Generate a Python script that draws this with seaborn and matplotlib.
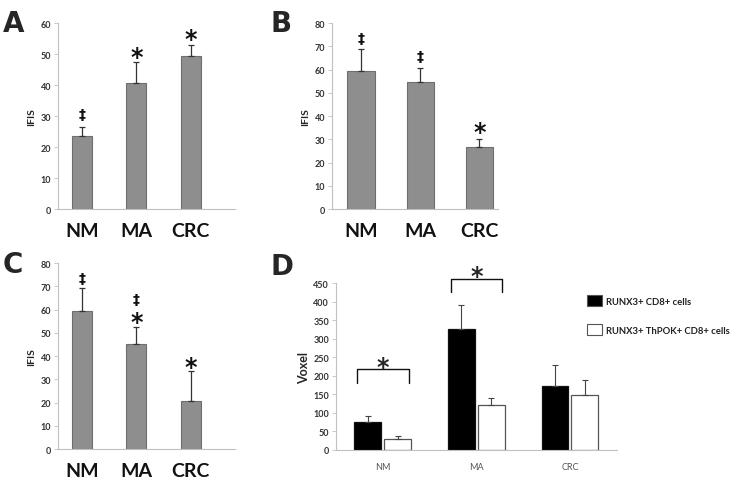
import matplotlib
matplotlib.use("Agg")
import matplotlib.pyplot as plt
from matplotlib.transforms import offset_copy
import seaborn as sns
import pandas as pd
import numpy as np

sns.set_style("white")
plt.rcParams['font.family'] = ['Lato', 'DejaVu Sans']

cats = ['NM', 'MA', 'CRC']

# panels A-C: IFIS mean and upper error
a_vals = [23.5, 40.5, 49.3]
a_err = [3.0, 7.0, 3.7]
a_marks = ['‡', '*', '*']
a_mark_y = [30.6, 50.8, 56.5]

b_vals = [59.5, 54.5, 26.5]
b_err = [9.3, 6.2, 3.8]
b_marks = ['‡', '‡', '*']
b_mark_y = [73.5, 66.0, 35.1]

c_vals = [59.5, 45.3, 20.8]
c_err = [9.7, 7.0, 12.7]
c_marks = [['‡'], ['‡', '*'], ['*']]
c_mark_y = [[73.5], [64.5, 56.6], [37.6]]

# panel D: voxel counts
d_series = ['RUNX3+ CD8+ cells', 'RUNX3+ ThPOK+ CD8+ cells']
d_cd8 = [76.5, 326, 172]
d_cd8_err = [14.5, 65.5, 58]
d_thpok = [30.6, 122, 148]
d_thpok_err = [6.4, 18, 41]
d_bracket = [(180, 217, 238), (425, 461, 483)]  # leg bottom, bar top, star

fig = plt.figure(figsize=(7.37, 4.81), dpi=100)

bar_grey = '#8e8e8e'
edge_grey = '#6e6e6e'
spine_col = '#c0c0c0'


def style_axes(ax):
    sns.despine(ax=ax)
    for s in ['left', 'bottom']:
        ax.spines[s].set_color(spine_col)
        ax.spines[s].set_linewidth(0.8)
    ax.tick_params(axis='y', which='both', left=True, length=3, width=0.6,
                   color=spine_col, labelsize=6.5, labelcolor='#333333', pad=2)
    for t in ax.get_yticklabels():
        t.set_fontweight('bold')
    ax.tick_params(axis='x', bottom=False, pad=8)
    ax.set_xlabel('')


def ifis_panel(rect, vals, err, ymax, width, xlim):
    ax = fig.add_axes(rect)
    df = pd.DataFrame({'cat': cats, 'val': vals})
    sns.barplot(data=df, x='cat', y='val', color=bar_grey, width=width,
                edgecolor=edge_grey, linewidth=0.8, saturation=1, ax=ax)
    ax.errorbar(cats, vals, yerr=[np.zeros(3), err], fmt='none',
                ecolor='#333333', elinewidth=0.9, capsize=2.5, capthick=0.9)
    ax.set_ylim(0, ymax)
    ax.set_yticks(np.arange(0, ymax + 1, 10))
    ax.set_xlim(*xlim)
    ax.set_ylabel('IFIS', fontsize=7.5, fontweight='bold', labelpad=3)
    style_axes(ax)
    ax.set_xticks(range(3))
    ax.set_xticklabels(cats, fontsize=14, fontweight='bold', color='#111111')
    ax.tick_params(axis='x', pad=6)
    return ax


def put_mark(ax, x, y, m):
    # DejaVu asterisk sits high in its box, so nudge it down a little
    if m == '*':
        tr = offset_copy(ax.transData, fig=fig, y=-5, units='dots')
        ax.text(x, y, m, ha='center', va='center', fontsize=17, transform=tr,
                fontweight='bold', family='DejaVu Sans', color='#111111',
                clip_on=False)
    else:
        ax.text(x, y, m, ha='center', va='center', fontsize=10,
                fontweight='bold', family='DejaVu Sans', color='#111111')


# Panel A
axA = ifis_panel([0.0787, 0.5634, 0.240, 0.3867], a_vals, a_err, 60, 0.37, (-0.45, 2.82))
for i, (m, y) in enumerate(zip(a_marks, a_mark_y)):
    put_mark(axA, i, y, m)

# Panel B
axB = ifis_panel([0.4505, 0.5634, 0.225, 0.3867], b_vals, b_err, 80, 0.46, (-0.49, 2.31))
for i, (m, y) in enumerate(zip(b_marks, b_mark_y)):
    put_mark(axB, i, y, m)

# Panel C
axC = ifis_panel([0.0787, 0.0644, 0.240, 0.3867], c_vals, c_err, 80, 0.37, (-0.45, 2.82))
for i, (ms, ys) in enumerate(zip(c_marks, c_mark_y)):
    for m, y in zip(ms, ys):
        put_mark(axC, i, y, m)

# Panel D
axD = fig.add_axes([0.4559, 0.0624, 0.381, 0.347])
dfD = pd.DataFrame({'cat': cats * 2,
                    'series': [d_series[0]] * 3 + [d_series[1]] * 3,
                    'val': d_cd8 + d_thpok})
sns.barplot(data=dfD, x='cat', y='val', hue='series',
            palette=['#000000', '#ffffff'], width=0.64, gap=0.1,
            saturation=1, ax=axD)
errs = d_cd8_err + d_thpok_err
for k, p in enumerate(axD.patches[:6]):
    p.set_edgecolor('#111111' if k < 3 else '#555555')
    p.set_linewidth(0.9)
    xc = p.get_x() + p.get_width() / 2
    axD.errorbar([xc], [p.get_height()], yerr=[[0], [errs[k]]], fmt='none',
                 ecolor='#444444', elinewidth=0.8, capsize=2, capthick=0.8)
axD.set_ylim(0, 450)
axD.set_yticks(np.arange(0, 451, 50))
axD.set_xlim(-0.5, 2.5)
axD.set_ylabel('Voxel', fontsize=9, fontweight='bold', labelpad=2)
style_axes(axD)
axD.tick_params(axis='x', pad=5)
axD.set_xticklabels(cats, fontsize=6.5, color='#555555')

# significance brackets over NM and MA
star_tr = offset_copy(axD.transData, fig=fig, y=-5, units='dots')
for i, (lo, top, star) in enumerate(d_bracket):
    pair = [axD.patches[i], axD.patches[i + 3]]
    x0 = pair[0].get_x() + pair[0].get_width() * 0.1
    x1 = pair[1].get_x() + pair[1].get_width() * 0.9
    axD.plot([x0, x0, x1, x1], [lo, top, top, lo], color='#111111', lw=1.0,
             clip_on=False, solid_joinstyle='round')
    axD.text((x0 + x1) / 2, star, '*', ha='center', va='center', fontsize=17,
             fontweight='bold', family='DejaVu Sans', clip_on=False,
             transform=star_tr)

leg = axD.legend(loc='upper left', bbox_to_anchor=(0.7965, 0.385),
                 bbox_transform=fig.transFigure, frameon=False,
                 fontsize=6.8, handlelength=1.6, handleheight=1.5,
                 labelspacing=1.85, borderpad=0, borderaxespad=0,
                 handletextpad=0.45)
for t in leg.get_texts():
    t.set_fontweight('bold')
    t.set_color('#222222')
for h in leg.legend_handles:
    h.set_edgecolor('#555555')
    h.set_linewidth(0.8)

# panel letters
for lbl, x, y in [('A', 0.004, 0.95), ('B', 0.367, 0.95),
                  ('C', 0.004, 0.45), ('D', 0.367, 0.445)]:
    fig.text(x, y, lbl, fontsize=20, fontweight='bold', va='center',
             family='DejaVu Sans')

fig.savefig('out.png', dpi=100, facecolor='white')
